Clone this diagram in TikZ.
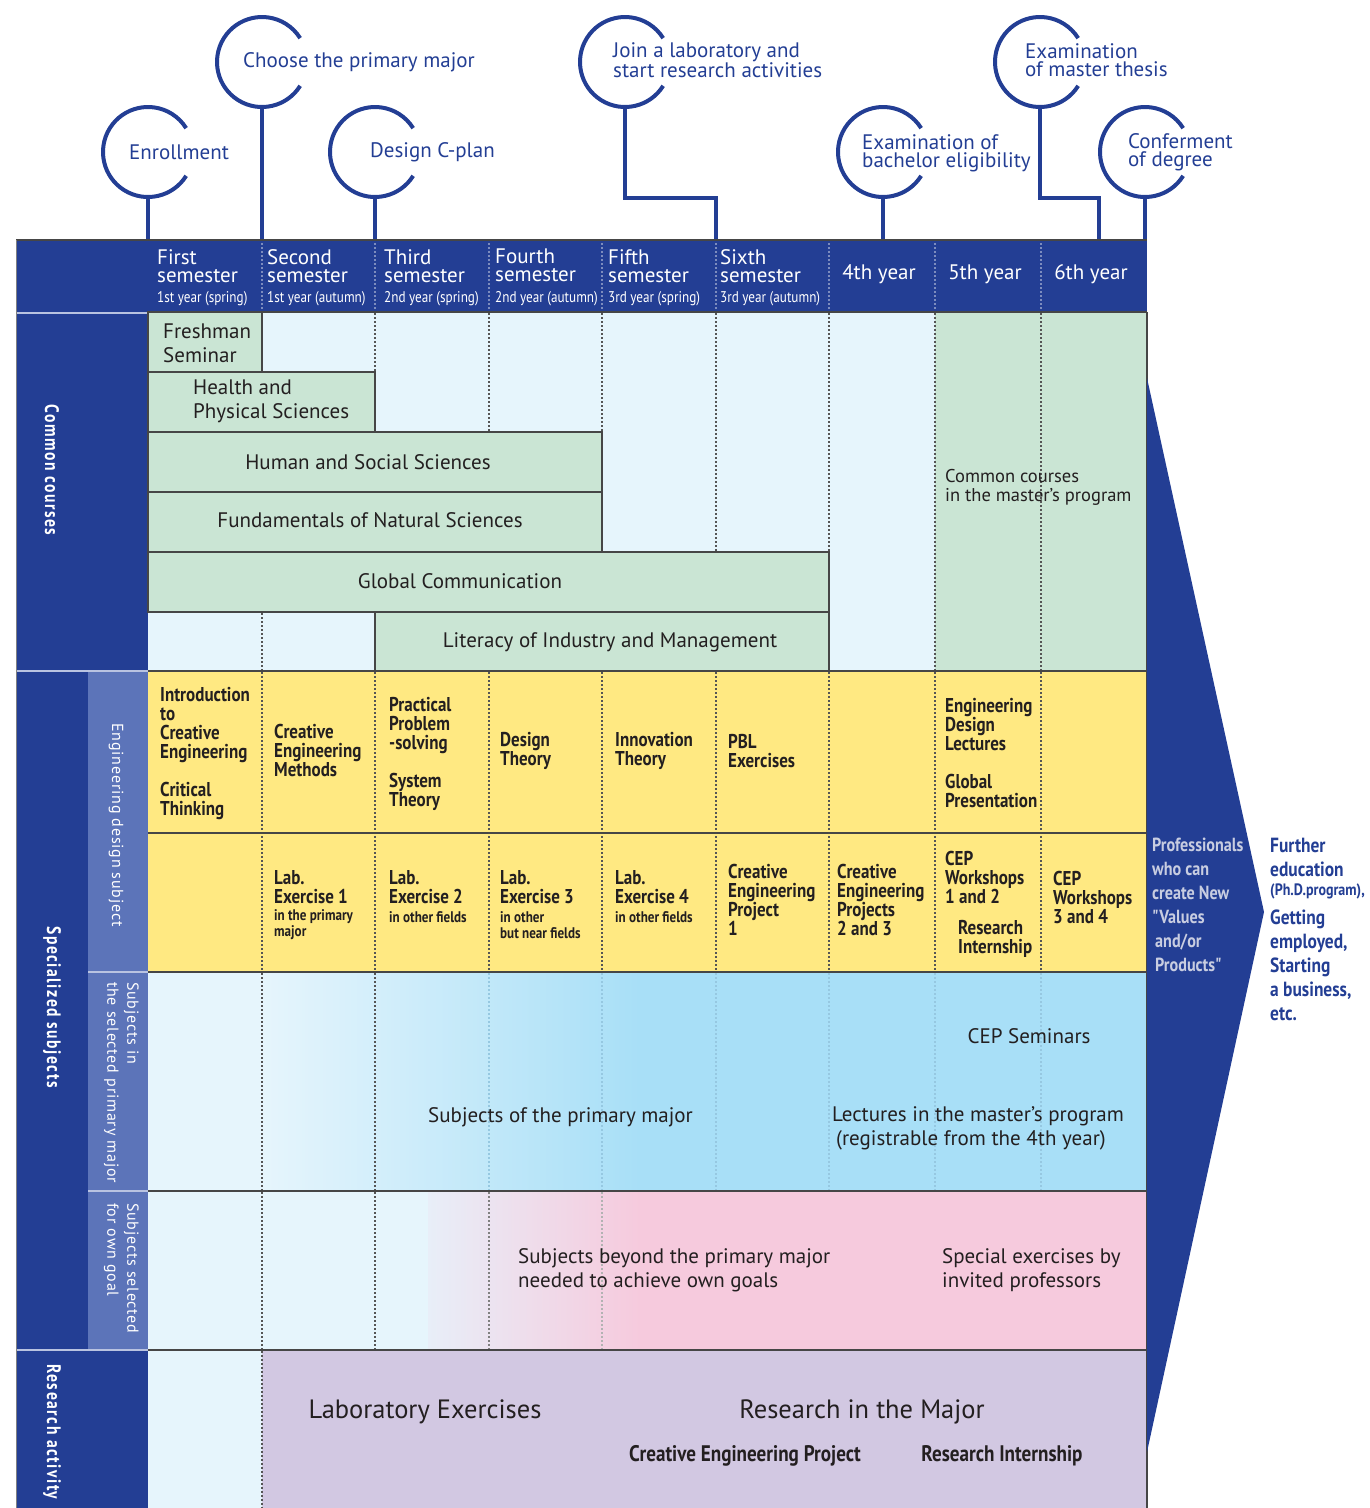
\documentclass[tikz,border=0pt]{standalone}
\usepackage{fontspec}
\setmainfont{PT Sans}
\newfontfamily\cond[FakeStretch=0.85]{PT Sans}
\newfontfamily\spcb[FakeStretch=0.8,LetterSpace=8]{PT Sans}
\newfontfamily\spcr[LetterSpace=5]{PT Sans}
\definecolor{dblue}{RGB}{35,62,148}
\definecolor{mblue}{RGB}{92,116,185}
\definecolor{lblue}{RGB}{230,245,252}
\definecolor{cgreen}{RGB}{202,229,212}
\definecolor{cyel}{RGB}{255,233,130}
\definecolor{cblue}{RGB}{168,223,247}
\definecolor{cpink}{RGB}{246,202,221}
\definecolor{pstart}{RGB}{232,238,248}
\definecolor{cpurp}{RGB}{210,200,226}
\definecolor{txt}{RGB}{35,31,32}
\definecolor{bline}{RGB}{70,70,70}
\definecolor{dgray}{RGB}{85,85,85}
\definecolor{hdotc}{RGB}{125,140,190}
\definecolor{sepc}{RGB}{185,195,225}
\definecolor{faint}{RGB}{150,200,225}
\definecolor{chevt}{RGB}{200,205,225}
\begin{document}
\begin{tikzpicture}[x=1pt,y=-1pt,
  hdr/.style={text=white,font=\fontsize{21}{18}\selectfont,align=left,inner sep=0,anchor=north west},
  hsm/.style={text=white,font=\cond\fontsize{15.5}{17}\selectfont,inner sep=0,anchor=west},
  hyr/.style={text=white,font=\fontsize{21}{24}\selectfont,inner sep=0},
  arcl/.style={draw=dblue,line width=4pt},
  stem/.style={draw=dblue,line width=4pt},
  mtxt/.style={text=dblue,font=\fontsize{21}{18}\selectfont,align=left,inner sep=0,anchor=west},
  gline/.style={draw=bline,line width=1.3pt},
  dotg/.style={draw=dgray,line width=1.1pt,dash pattern=on 2pt off 2pt},
  doth/.style={draw=hdotc,line width=1.1pt,dash pattern=on 2pt off 2pt},
  dotf/.style={draw=faint,line width=1.1pt,dash pattern=on 2pt off 2pt},
  ctxt/.style={text=txt,font=\fontsize{21}{24}\selectfont,align=left,inner sep=0},
  ytxt/.style={text=txt,font=\cond\bfseries\fontsize{20}{19}\selectfont,align=left,inner sep=0,anchor=west},
  ysm/.style={text=txt,font=\cond\bfseries\fontsize{15.4}{16}\selectfont,align=left,inner sep=0,anchor=west},
  vlab/.style={text=white,font=\spcb\bfseries\fontsize{19.5}{22}\selectfont,rotate=-90,inner sep=0},
  vsub/.style={text=white,font=\spcr\fontsize{16}{20}\selectfont,rotate=-90,inner sep=0,align=left},
  sep/.style={draw=sepc,line width=2pt},
  rtxt/.style={font=\cond\bfseries\fontsize{20.5}{24}\selectfont,align=left,inner sep=0,anchor=west},
]
\useasboundingbox (0,0) rectangle (1370,1508);

% ---------- milestones ----------
\foreach \n/\cx/\cy in {m1/148/152,m2/262/62,m3/375/152,m4/625/62,m5/883/152,m6/1040/62,m7/1145/152}{
  \coordinate (\n c) at (\cx,\cy);
  \draw[arcl] (\n c) ++(32:45) arc[start angle=32,end angle=328,radius=45];
}
\coordinate (m1b) at (148,197); \coordinate (m1h) at (148,241);
\coordinate (m2b) at (262,107); \coordinate (m2h) at (262,241);
\coordinate (m3b) at (375,197); \coordinate (m3h) at (375,241);
\coordinate (m4b) at (625,107); \coordinate (m4k) at (716,198); \coordinate (m4h) at (716,241);
\coordinate (m5b) at (883,197); \coordinate (m5h) at (883,241);
\coordinate (m6b) at (1040,107); \coordinate (m6k) at (1099,198); \coordinate (m6h) at (1099,241);
\coordinate (m7b) at (1145,197); \coordinate (m7h) at (1145,241);
\draw[stem] (m1b) -- (m1h);
\draw[stem] (m2b) -- (m2h);
\draw[stem] (m3b) -- (m3h);
\draw[stem] (m4b) |- (m4k) -- (m4h);
\draw[stem] (m5b) -- (m5h);
\draw[stem] (m6b) |- (m6k) -- (m6h);
\draw[stem] (m7b) -- (m7h);
\node[mtxt] (t1) at (129,152) {Enrollment};
\node[mtxt] (t2) at (243,62) {Choose the primary major};
\node[mtxt] (t3) at (370,152) {Design C-plan};
\node[mtxt] (t4) at (613,60) {Join a laboratory and\\start research activities};
\node[mtxt] (t5) at (862,153) {Examination of\\bachelor eligibility};
\node[mtxt] (t6) at (1025,60) {Examination\\of master thesis};
\node[mtxt] (t7) at (1128,152) {Conferment\\of degree};

% ---------- header ----------
\fill[dblue] (16,240) rectangle (1147,312);
\foreach \x in {262,375,489,602,716,829,935,1041} \draw[doth] (\x,243) -- (\x,311);
\draw[bline,line width=1.5pt] (16,240) -- (1147,240);
\node[hdr] (h1) at (157,249) {First\\semester};
\node[hsm] (h1s) at (157,299) {1st year (spring)};
\node[hdr] (h2) at (267,249) {Second\\semester};
\node[hsm] (h2s) at (267,299) {1st year (autumn)};
\node[hdr] (h3) at (384,249) {Third\\semester};
\node[hsm] (h3s) at (384,299) {2nd year (spring)};
\node[hdr] (h4) at (495,249) {Fourth\\semester};
\node[hsm] (h4s) at (495,299) {2nd year (autumn)};
\node[hdr] (h5) at (608,249) {Fifth\\semester};
\node[hsm] (h5s) at (608,299) {3rd year (spring)};
\node[hdr] (h6) at (720,249) {Sixth\\semester};
\node[hsm] (h6s) at (720,299) {3rd year (autumn)};
\node[hyr] (h7) at (879,274) {4th year};
\node[hyr] (h8) at (985,274) {5th year};
\node[hyr] (h9) at (1091,274) {6th year};

% ---------- left label column ----------
\fill[dblue] (16,312) rectangle (148,671);
\fill[dblue] (16,671) rectangle (88,1350);
\fill[mblue] (88,671) rectangle (148,1350);
\fill[dblue] (16,1350) rectangle (148,1508);
\draw[sep] (16,313) -- (148,313);
\draw[sep] (16,671) -- (148,671);
\draw[sep] (16,1350) -- (148,1350);
\draw[sep] (88,972) -- (148,972);
\draw[sep] (88,1191) -- (148,1191);
\draw[gray,line width=1pt] (16,240) -- (16,1508);
\node[vlab] (lc) at (52,470) {Common courses};
\node[vlab] (ls) at (52,1007) {Specialized subjects};
\node[vlab,anchor=west] (lr) at (52,1364) {Research activity};
\node[vsub] (le1) at (116,825) {Engineering design subject};
\node[vsub,anchor=north west] (le2) at (139,982) {Subjects in\\the selected primary major};
\node[vsub,anchor=north west] (le3) at (139,1203) {Subjects selected\\for own goal};

% ---------- common courses ----------
\fill[lblue] (148,312) rectangle (935,671);
\foreach \x in {262,375,489,602,716,829} \draw[dotg] (\x,313) -- (\x,671);
\fill[cgreen] (935,312) rectangle (1147,671);
\foreach \x in {935,1041} \draw[dotg] (\x,313) -- (\x,671);
\draw[gline,fill=cgreen] (148,312) rectangle (262,372);
\draw[gline,fill=cgreen] (148,372) rectangle (375,432);
\draw[gline,fill=cgreen] (148,432) rectangle (602,492);
\draw[gline,fill=cgreen] (148,492) rectangle (602,552);
\draw[gline,fill=cgreen] (148,552) rectangle (829,612);
\draw[gline,fill=cgreen] (375,612) rectangle (829,671);
\node[ctxt,anchor=west] (fs) at (163,343) {Freshman\\Seminar};
\node[ctxt,anchor=west] (hp) at (193,401) {Health and\\Physical Sciences};
\node[ctxt] (hs) at (368,462) {Human and Social Sciences};
\node[ctxt] (fn) at (370,520) {Fundamentals of Natural Sciences};
\node[ctxt] (gc) at (460,581) {Global Communication};
\node[ctxt] (li) at (610,642) {Literacy of Industry and Management};
\node[ctxt,anchor=west,font=\fontsize{18.5}{19}\selectfont] (mc) at (945,487) {Common courses\\in the master's program};

% ---------- engineering design ----------
\fill[cyel] (148,671) rectangle (1147,972);
\foreach \x in {262,375,489,602,716,829,935,1041} \draw[dotg] (\x,672) -- (\x,971);
\draw[gline] (148,833) -- (1147,833);
\node[ytxt] (y1) at (160,753) {Introduction\\to\\Creative\\Engineering\\[19pt]Critical\\Thinking};
\node[ytxt] (y2) at (274,750) {Creative\\Engineering\\Methods};
\node[ytxt] (y3) at (389,754) {Practical\\Problem\\-solving\\[19pt]System\\Theory};
\node[ytxt] (y4) at (500,751) {Design\\Theory};
\node[ytxt] (y5) at (615,751) {Innovation\\Theory};
\node[ytxt] (y6) at (728,751) {PBL\\Exercises};
\node[ytxt] (y8) at (945,753) {Engineering\\Design\\Lectures\\[19pt]Global\\Presentation};
\node[ytxt] (z2) at (274,887) {Lab.\\Exercise 1};
\node[ysm] (z2s) at (274,925) {in the primary\\major};
\node[ytxt] (z3) at (389,887) {Lab.\\Exercise 2};
\node[ysm] (z3s) at (389,917) {in other fields};
\node[ytxt] (z4) at (500,887) {Lab.\\Exercise 3};
\node[ysm] (z4s) at (500,925) {in other\\but near fields};
\node[ytxt] (z5) at (615,887) {Lab.\\Exercise 4};
\node[ysm] (z5s) at (615,917) {in other fields};
\node[ytxt] (z6) at (728,900) {Creative\\Engineering\\Project\\1};
\node[ytxt] (z7) at (837,900) {Creative\\Engineering\\Projects\\2 and 3};
\node[ytxt] (z8) at (945,877) {CEP\\Workshops\\1 and 2};
\node[ytxt] (z8b) at (958,939) {Research\\Internship};
\node[ytxt] (z9) at (1053,897) {CEP\\Workshops\\3 and 4};

% ---------- primary major ----------
\fill[lblue] (148,972) rectangle (263,1191);
\shade[left color=lblue,right color=cblue] (262,972) rectangle (640,1191);
\fill[cblue] (639,972) rectangle (1147,1191);
\draw[dotg] (262,973) -- (262,1191);
\draw[dotg] (375,973) -- (375,1191);
\draw[dotf] (489,973) -- (489,1191);
\foreach \x in {602,716,829,935,1041} \draw[dotf] (\x,973) -- (\x,1191);
\node[ctxt] (cs) at (1029,1036) {CEP Seminars};
\node[ctxt,anchor=west] (sp) at (428,1117) {Subjects of the primary major};
\node[ctxt,anchor=west] (lm) at (832,1128) {Lectures in the master's program\\\hspace{4pt}(registrable from the 4th year)};

% ---------- own goal ----------
\fill[lblue] (148,1191) rectangle (429,1350);
\shade[left color=pstart,right color=cpink] (428,1191) rectangle (640,1350);
\fill[cpink] (639,1191) rectangle (1147,1350);
\draw[dotg] (262,1192) -- (262,1350);
\draw[dotg] (375,1192) -- (375,1350);
\draw[dotg,draw=gray] (489,1192) -- (489,1350);
\draw[dotg,draw=gray!60] (602,1192) -- (602,1350);
\node[ctxt,anchor=west] (sb) at (518,1270) {Subjects beyond the primary major\\needed to achieve own goals};
\node[ctxt,anchor=west] (se) at (942,1270) {Special exercises by\\invited professors};

% ---------- research ----------
\fill[lblue] (148,1350) rectangle (262,1508);
\fill[cpurp] (262,1350) rectangle (1147,1508);
\draw[dotg] (262,1351) -- (262,1508);
\node[ctxt,font=\fontsize{26.5}{28}\selectfont] (le) at (425,1412) {Laboratory Exercises};
\node[ctxt,font=\fontsize{26.5}{28}\selectfont] (rm) at (862,1412) {Research in the Major};
\node[rtxt,text=txt,anchor=center,font=\cond\bfseries\fontsize{22.5}{24}\selectfont] (cep) at (745,1456) {Creative Engineering Project};
\node[rtxt,text=txt,anchor=center,font=\cond\bfseries\fontsize{22.5}{24}\selectfont] (ri) at (1002,1456) {Research Internship};

% horizontal lines
\draw[gline] (148,671) -- (1147,671);
\draw[gline] (148,972) -- (1147,972);
\draw[gline] (148,1191) -- (1147,1191);
\draw[gline] (148,1350) -- (1147,1350);
\draw[gline] (148,312) -- (1147,312);
\draw[gline] (1147,312) -- (1147,1508);

% ---------- chevron ----------
\fill[dblue] (1147,378) -- (1264,912) -- (1147,1452) -- cycle;
\node[rtxt,text=chevt,font=\cond\bfseries\fontsize{19}{24}\selectfont] (pr) at (1152,905) {Professionals\\who can\\create New\\"Values\\\hspace{3pt}and/or\\\hspace{3pt}Products"};
\node[rtxt,text=dblue] (fe1) at (1270,857) {Further\\education};
\node[rtxt,text=dblue,font=\cond\bfseries\fontsize{16.5}{17}\selectfont] (fe2) at (1270,891) {(Ph.D.program),};
\node[rtxt,text=dblue] (fe3) at (1270,965) {Getting\\employed,\\Starting\\a business,\\etc.};
\end{tikzpicture}
\end{document}
